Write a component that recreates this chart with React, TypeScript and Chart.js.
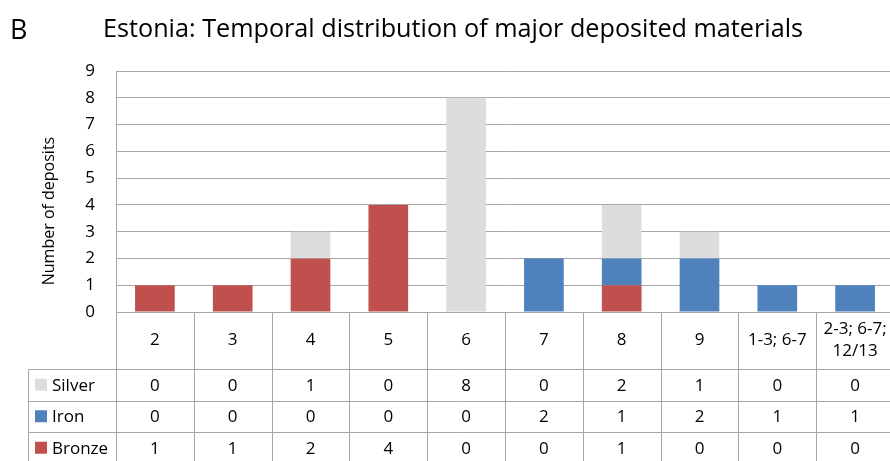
import React, { useEffect, useRef } from "react";
import { Chart, registerables } from "chart.js";
Chart.register(...registerables);

const titleLetter = "B";
const titleText = "Estonia: Temporal distribution of major deposited materials";
const yAxisTitle = "Number of deposits";
const categories: string[][] = [["2"], ["3"], ["4"], ["5"], ["6"], ["7"], ["8"], ["9"], ["1-3; 6-7"], ["2-3; 6-7;", "12/13"]];
const seriesNames = ["Silver", "Iron", "Bronze"];
const silver = [0, 0, 1, 0, 8, 0, 2, 1, 0, 0];
const iron = [0, 0, 0, 0, 0, 2, 1, 2, 1, 1];
const bronze = [1, 1, 2, 4, 0, 0, 1, 0, 0, 0];
const yMax = 9;

const COLORS: Record<string, string> = { Silver: "#DCDDDE", Iron: "#4F81BD", Bronze: "#C0504D" };
const FONT = "'Open Sans', sans-serif";
const GRID = "#A6A6A6";

const tablePlugin = {
  id: "dataTable",
  afterDraw(chart: any) {
    const ctx = chart.ctx as CanvasRenderingContext2D;
    const { left, right, bottom } = chart.chartArea;
    const xs = chart.scales.x;
    const step = xs.getPixelForValue(1) - xs.getPixelForValue(0);
    const n = categories.length;
    const bounds: number[] = [];
    for (let i = 0; i < n; i++) bounds.push(xs.getPixelForValue(i) - step / 2);
    bounds.push(xs.getPixelForValue(n - 1) + step / 2);
    const headerH = 57;
    const rowH = 31.5;
    const legendLeft = 28;
    const rowsTop = bottom + headerH;
    ctx.save();
    ctx.strokeStyle = GRID;
    ctx.lineWidth = 1;
    const line = (x1: number, y1: number, x2: number, y2: number) => {
      ctx.beginPath();
      ctx.moveTo(Math.round(x1) + 0.5, Math.round(y1) + 0.5);
      ctx.lineTo(Math.round(x2) + 0.5, Math.round(y2) + 0.5);
      ctx.stroke();
    };
    line(left, bottom, right, bottom);
    for (let r = 0; r < 4; r++) line(legendLeft, rowsTop + r * rowH, right, rowsTop + r * rowH);
    for (const b of bounds) line(b, bottom, b, rowsTop + 4 * rowH);
    line(legendLeft, rowsTop, legendLeft, rowsTop + 4 * rowH);
    ctx.fillStyle = "#000";
    ctx.font = `17px ${FONT}`;
    ctx.textAlign = "center";
    ctx.textBaseline = "middle";
    categories.forEach((lines, i) => {
      const cx = xs.getPixelForValue(i);
      const cy = bottom + headerH / 2;
      const lh = 22;
      lines.forEach((t, k) => {
        ctx.fillText(t, cx, cy + (k - (lines.length - 1) / 2) * lh);
      });
    });
    const data = [silver, iron, bronze];
    seriesNames.forEach((name, r) => {
      const cy = rowsTop + r * rowH + rowH / 2;
      ctx.fillStyle = COLORS[name];
      ctx.fillRect(legendLeft + 7, cy - 6, 12, 12);
      ctx.fillStyle = "#000";
      ctx.textAlign = "left";
      ctx.fillText(name, legendLeft + 24, cy + 1);
      ctx.textAlign = "center";
      data[r].forEach((v, i) => ctx.fillText(String(v), xs.getPixelForValue(i), cy + 1));
    });
    ctx.textAlign = "left";
    ctx.font = `27px ${FONT}`;
    ctx.fillText(titleLetter, 10, 31);
    ctx.font = `25px ${FONT}`;
    const w = ctx.measureText(titleText).width;
    ctx.save();
    ctx.translate(103, 30);
    ctx.scale(700 / w, 1);
    ctx.fillText(titleText, 0, 0);
    ctx.restore();
    ctx.save();
    ctx.translate(49, 211);
    ctx.rotate(-Math.PI / 2);
    ctx.textAlign = "center";
    ctx.font = `16px ${FONT}`;
    ctx.fillText(yAxisTitle, 0, 0);
    ctx.restore();
    ctx.restore();
  },
};

export default function App() {
  const ref = useRef<HTMLCanvasElement>(null);
  useEffect(() => {
    const chart = new Chart(ref.current!, {
      type: "bar",
      data: {
        labels: categories.map((c) => c.join(" ")),
        datasets: [
          { label: "Bronze", data: bronze, backgroundColor: COLORS.Bronze },
          { label: "Iron", data: iron, backgroundColor: COLORS.Iron },
          { label: "Silver", data: silver, backgroundColor: COLORS.Silver },
        ],
      },
      options: {
        responsive: false,
        animation: false,
        layout: { padding: { top: 71, bottom: 149, left: 0, right: 6 } },
        plugins: { legend: { display: false }, title: { display: false }, tooltip: { enabled: false } },
        datasets: { bar: { barPercentage: 0.51, categoryPercentage: 1 } },
        scales: {
          x: { stacked: true, display: false },
          y: {
            stacked: true,
            min: 0,
            max: yMax,
            afterFit: (s: any) => { s.width = 116; },
            ticks: { stepSize: 1, padding: 21, color: "#000", font: { family: FONT, size: 17 } },
            grid: { color: GRID, drawTicks: false },
            border: { color: GRID },
          },
        },
      },
      plugins: [tablePlugin],
    });
    return () => chart.destroy();
  }, []);
  return (
    <div style={{ position: "fixed", left: 0, top: 0, width: 900, height: 461, background: "#fff" }}>
      <canvas ref={ref} width={900} height={461} style={{ width: 900, height: 461 }} />
    </div>
  );
}
